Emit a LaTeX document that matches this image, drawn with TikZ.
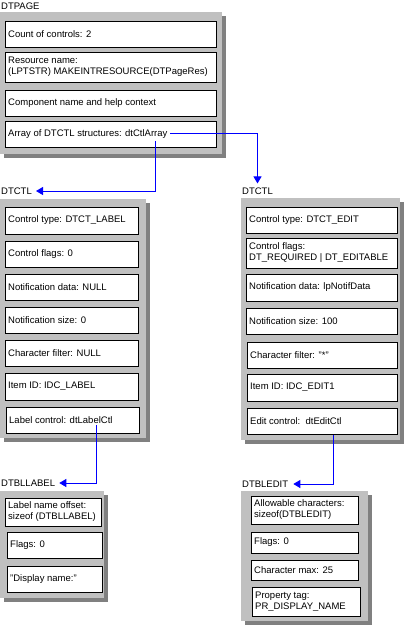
\documentclass[tikz,border=0pt]{standalone}
\usepackage{fontspec}
\setmainfont{Liberation Sans}
\usetikzlibrary{arrows.meta}
\definecolor{panelgray}{RGB}{192,192,192}
\definecolor{shadegray}{RGB}{128,128,128}
\definecolor{connblue}{RGB}{0,0,255}
\tikzset{
  fbox/.style={draw=black, fill=white, line width=1pt, anchor=north west, inner sep=0pt, outer sep=0pt},
  ftext/.style={anchor=west, align=left, inner sep=0pt, font=\fontsize{9.5}{11}\selectfont},
  lbl/.style={anchor=west, inner xsep=3pt, inner ysep=1pt, font=\fontsize{9.5}{11}\selectfont},
  conn/.style={draw=connblue, line width=1pt, -{Triangle[length=7pt,width=8pt]}},
}
\newcommand{\fld}[6]{%
  \node[fbox, minimum width={(#4)-(#2)}, minimum height={(#5)-(#3)}] (#1) at (#2,#3) {};
  \node[ftext] (#1t) at ([xshift=3pt]#1.west) {#6};}
\newcommand{\panel}[4]{%
  \fill[shadegray] (#1+4,#2+4) rectangle (#3+4,#4+4);
  \fill[panelgray] (#1,#2) rectangle (#3,#4);}
\begin{document}
\begin{tikzpicture}[x=1pt,y=-1pt]
\useasboundingbox (0,0) rectangle (405,625);
\fill[white] (0,0) rectangle (405,625);
% DTPAGE
\node[lbl, inner xsep=1pt] (lpage) at (0,6) {DTPAGE};
\panel{0}{12}{222}{154}
\fld{p1}{5}{21}{216}{47}{Count of controls: 2}
\fld{p2}{5}{52}{216}{82}{Resource name:\\(LPTSTR) MAKEINTRESOURCE(DTPageRes)}
\fld{p3}{5}{90}{216}{116}{Component name and help context}
\fld{p4}{5}{121}{216}{147}{Array of DTCTL structures: dtCtlArray}
\coordinate (a1) at (155,141);
\coordinate (a2) at (170,133);
% left DTCTL
\node[lbl, inner xsep=1pt] (lctl) at (0,191) {DTCTL};
\panel{0}{199}{146}{438}
\fld{l1}{5}{207}{138}{234}{Control type: DTCT\_LABEL}
\fld{l2}{5}{241}{138}{267}{Control flags: 0}
\fld{l3}{5}{274}{138}{300}{Notification data: NULL}
\fld{l4}{5}{307}{138}{333}{Notification size: 0}
\fld{l5}{5}{340}{138}{366}{Character filter: NULL}
\fld{l6}{5}{373}{138}{400}{Item ID: IDC\_LABEL}
\fld{l7}{6}{407}{139}{433}{Label control: dtLabelCtl}
\coordinate (a3) at (96,425);
% right DTCTL
\node[lbl, inner xsep=1pt] (rctl) at (241,191) {DTCTL};
\panel{241}{198}{400}{440}
\fld{r1}{246}{207}{397}{233}{Control type: DTCT\_EDIT}
\fld{r2}{246}{238}{397}{268}{Control flags:\\DT\_REQUIRED | DT\_EDITABLE}
\fld{r3}{246}{274}{397}{301}{Notification data: lpNotifData}
\fld{r4}{246}{308}{397}{334}{Notification size: 100}
\fld{r5}{247}{342}{397}{368}{Character filter: "*"}
\fld{r6}{247}{374}{397}{401}{Item ID: IDC\_EDIT1}
\fld{r7}{247}{408}{397}{434}{Edit control:\ \ dtEditCtl}
\coordinate (a4) at (333,435);
% DTBLLABEL
\node[lbl, inner xsep=1pt] (llab) at (0,483) {DTBLLABEL};
\panel{0}{491}{104}{598}
\fld{b1}{5}{498}{101}{526}{Label name offset:\\sizeof (DTBLLABEL)}
\fld{b2}{7}{532}{102}{558}{Flags: 0}
\fld{b3}{7}{566}{102}{592}{"Display name:"}
% DTBLEDIT
\node[lbl, inner xsep=1pt] (ledit) at (241,484) {DTBLEDIT};
\panel{241}{491}{368}{621}
\fld{e1}{251}{496}{358}{524}{Allowable characters:\\sizeof(DTBLEDIT)}
\fld{e2}{251}{532}{358}{553}{Flags: 0}
\fld{e3}{251}{560}{358}{580}{Character max: 25}
\fld{e4}{252}{587}{360}{616}{Property tag:\\PR\_DISPLAY\_NAME}
% connectors
\draw[conn] (a1) |- ([xshift=3pt]lctl.east);
\draw[conn] (a2) -| ([yshift=3pt]rctl.north);
\draw[conn] (a3) |- ([xshift=3pt]llab.east);
\draw[conn] (a4) |- ([xshift=4pt]ledit.east);
\end{tikzpicture}
\end{document}
